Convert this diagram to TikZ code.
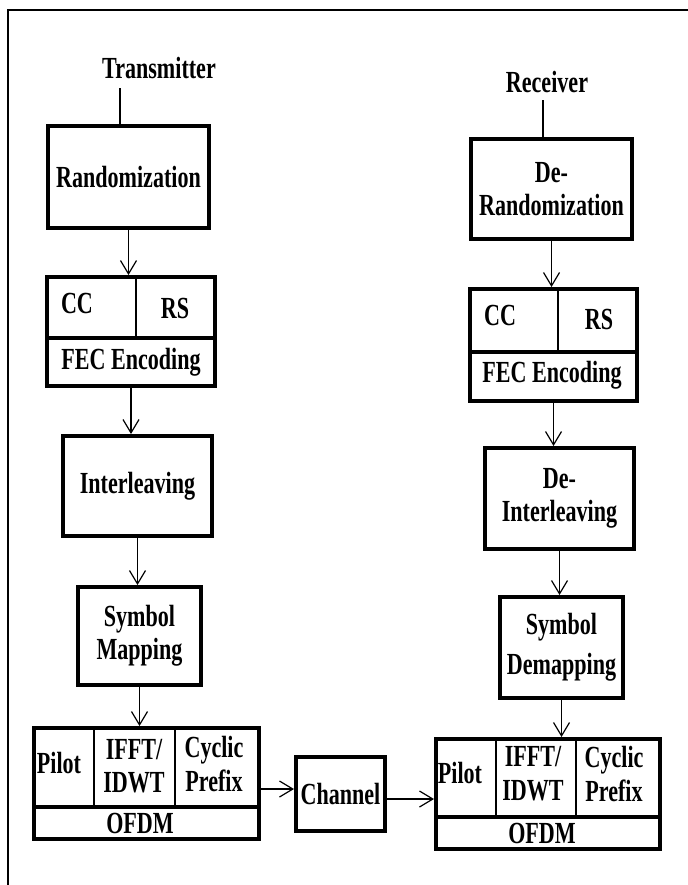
\documentclass[tikz,border=0pt]{standalone}
\usepackage{fontspec}
\setmainfont[FakeStretch=0.72]{Liberation Serif}
\usetikzlibrary{arrows.meta,calc}
\begin{document}
\begin{tikzpicture}[x=0.75pt,y=-0.75pt,
  every node/.style={font=\fontsize{23pt}{25pt}\selectfont\bfseries, inner sep=0pt, align=center},
  blk/.style={draw, line width=3pt, rectangle},
  thin/.style={line width=1pt},
  thickln/.style={line width=3pt},
  arr/.style={line width=0.9pt, -{Straight Barb[length=10pt,width=12pt,line width=0.9pt]}}]
\useasboundingbox (0,0) rectangle (687,885);
% outer frame
\draw[line width=1.4pt] (8,900) -- (8,10) -- (700,10);

% ---------- Transmitter ----------
\node (tx) at (159,68) {Transmitter};
\coordinate (txl) at (120,88);
\node[blk, minimum width=120.75pt, minimum height=76.5pt] (rand) at (128.5,177) {Randomization};
\draw[thin] (txl) -- (txl |- rand.north);

\node[blk, minimum width=126pt, minimum height=81.75pt] (lfec) at (131,331.5) {};
\coordinate (lmid) at (136,338);
\draw[thickln] (lfec.west |- lmid) -- (lfec.east |- lmid);
\draw[thin] (lfec.north -| lmid) -- (lmid);
\node (lcc) at (77,303) {CC};
\node (lrs) at (175,308) {RS};
\node (lfect) at (131,362) {FEC Encoding};

\node[blk, minimum width=111.75pt, minimum height=75pt] (inter) at (137.5,486) {Interleaving};
\node[blk, minimum width=92.25pt, minimum height=73.5pt] (smap) at (139.5,636) {Symbol\\Mapping};

\node[blk, minimum width=168.75pt, minimum height=83.25pt] (lofdm) at (146.5,783.5) {};
\coordinate (lom) at (94,807);
\coordinate (lom2) at (175,807);
\draw[thickln] (lofdm.west |- lom) -- (lofdm.east |- lom);
\draw[thin] (lofdm.north -| lom) -- (lom);
\draw[thin] (lofdm.north -| lom2) -- (lom2);
\node (lpilot) at (59,763) {Pilot};
\node (lifft) at (134,766) {IFFT/\\IDWT};
\node (lcyc) at (214,764) {Cyclic\\Prefix};
\node (lofdmt) at (140,823) {OFDM};

% ---------- Channel ----------
\node[blk, minimum width=66.75pt, minimum height=55.5pt] (ch) at (340.5,794) {Channel};

% ---------- Receiver ----------
\node (rx) at (547,82) {Receiver};
\coordinate (rxl) at (543,100);
\node[blk, minimum width=120.75pt, minimum height=75pt] (drand) at (551.5,189) {De-\\Randomization};
\draw[thin] (rxl) -- (rxl |- drand.north);

\node[blk, minimum width=125.25pt, minimum height=84pt] (rfec) at (553.5,345) {};
\coordinate (rmid) at (558,352);
\draw[thickln] (rfec.west |- rmid) -- (rfec.east |- rmid);
\draw[thin] (rfec.north -| rmid) -- (rmid);
\node (rcc) at (500,315) {CC};
\node (rrs) at (599,319) {RS};
\node (rfect) at (552,375) {FEC Encoding};

\node[blk, minimum width=111.75pt, minimum height=75.75pt] (dinter) at (559.5,498.5) {De-\\Interleaving};
\node[blk, minimum width=92.25pt, minimum height=75.75pt] (sdemap) at (561.5,647.5) {Symbol\\[5pt]Demapping};

\node[blk, minimum width=168pt, minimum height=82.5pt] (rofdm) at (548,794) {};
\coordinate (rom) at (496,817);
\coordinate (rom2) at (576,817);
\draw[thickln] (rofdm.west |- rom) -- (rofdm.east |- rom);
\draw[thin] (rofdm.north -| rom) -- (rom);
\draw[thin] (rofdm.north -| rom2) -- (rom2);
\node (rpilot) at (460,773) {Pilot};
\node (rifft) at (533,773.5) {IFFT/\\IDWT};
\node (rcyc) at (614,774) {Cyclic\\Prefix};
\node (rofdmt) at (542,833) {OFDM};

% ---------- arrows ----------
\draw[arr] (rand.south) -- (rand.south |- lfec.north);
\draw[arr] (lfec.south) -- (lfec.south |- inter.north);
\draw[arr] (inter.south) -- (inter.south |- smap.north);
\draw[arr] (smap.south) -- (smap.south |- lofdm.north);

\draw[arr] (drand.south) -- (drand.south |- rfec.north);
\draw[arr] (rfec.south) -- (rfec.south |- dinter.north);
\draw[arr] (dinter.south) -- (dinter.south |- sdemap.north);
\draw[arr] (sdemap.south) -- (sdemap.south |- rofdm.north);

\coordinate (ya) at (300,789);
\coordinate (yb) at (400,799);
\draw[arr] (lofdm.east |- ya) -- (ch.west |- ya);
\draw[arr] (ch.east |- yb) -- (rofdm.west |- yb);
\end{tikzpicture}
\end{document}
